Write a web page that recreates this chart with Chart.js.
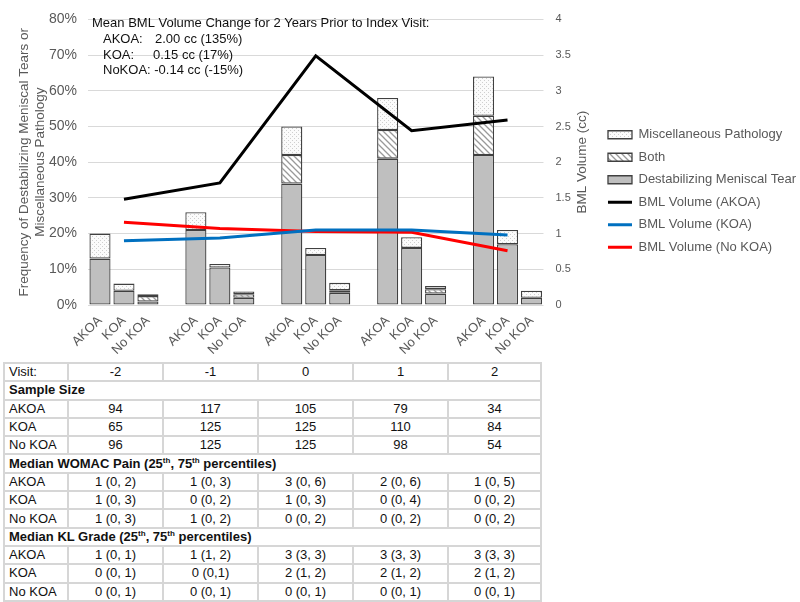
<!DOCTYPE html>
<html>
<head>
    <title>BML Volume and Meniscal Pathology</title>
    <script src="https://cdn.jsdelivr.net/npm/chart.js"></script>
    <style>
        body { margin: 0; width: 800px; height: 602px; overflow: hidden; background: #fff; position: relative; }
        #wrap { position: absolute; left: 0; top: 0; width: 800px; height: 382px; overflow: hidden; }
        #info { position: absolute; left: 3px; top: 362px; border-collapse: collapse; table-layout: fixed; width: 537px; background: #fff;
            font: 13px "Liberation Sans", Arial, sans-serif; color: #111; }
        #info td { border: 2px solid #d6d6d6; padding: 0 4px; height: 16.3px; line-height: 14px; text-align: center; white-space: nowrap; }
        #info td:first-child { text-align: left; }
        #info td.head { font-weight: bold; text-align: left; }
        #info sup { font-size: 8px; line-height: 0; }
    </style>
</head>
<body>
    <div id="wrap"><canvas id="chart" width="806" height="382"></canvas></div>
    <table id="info"></table>

    <script>
        // chart data
        const categories = ['AKOA', 'KOA', 'No KOA', '', 'AKOA', 'KOA', 'No KOA', '', 'AKOA', 'KOA', 'No KOA', '',
            'AKOA', 'KOA', 'No KOA', '', 'AKOA', 'KOA', 'No KOA'];
        const destabTear = [13, 4, 1, null, 21, 10.5, 2, null, 34, 14, 3.4, null, 41, 16, 3.2, null, 42, 17, 2];
        const bothPath = [null, null, 1.5, null, null, null, 1, null, 8, null, 0.7, null, 8, null, 1.2, null, 11, null, null];
        const miscPath = [7, 2, 0.5, null, 5, 1, 0.8, null, 8, 2, 2.1, null, 9, 3, 0.9, null, 11, 4, 2];
        const bmlAKOA = [null, 1.48, null, null, null, 1.71, null, null, null, 3.49, null, null, null, 2.44, null, null, null, 2.59, null];
        const bmlKOA = [null, 0.90, null, null, null, 0.94, null, null, null, 1.05, null, null, null, 1.05, null, null, null, 0.98, null];
        const bmlNoKOA = [null, 1.16, null, null, null, 1.07, null, null, null, 1.03, null, null, null, 1.02, null, null, null, 0.76, null];

        const noteTitle = 'Mean BML Volume Change for 2 Years Prior to Index Visit:';
        const noteGroups = ['AKOA:', 'KOA:', 'NoKOA:'];
        const noteValues = ['2.00 cc (135%)', '0.15 cc (17%)', '-0.14 cc (-15%)'];

        // table data
        const visits = ['-2', '-1', '0', '1', '2'];
        const sizeAKOA = [94, 117, 105, 79, 34];
        const sizeKOA = [65, 125, 125, 110, 84];
        const sizeNoKOA = [96, 125, 125, 98, 54];
        const painAKOA = ['1 (0, 2)', '1 (0, 3)', '3 (0, 6)', '2 (0, 6)', '1 (0, 5)'];
        const painKOA = ['1 (0, 3)', '0 (0, 2)', '1 (0, 3)', '0 (0, 4)', '0 (0, 2)'];
        const painNoKOA = ['1 (0, 3)', '1 (0, 2)', '0 (0, 2)', '0 (0, 2)', '0 (0, 2)'];
        const klAKOA = ['1 (0, 1)', '1 (1, 2)', '3 (3, 3)', '3 (3, 3)', '3 (3, 3)'];
        const klKOA = ['0 (0, 1)', '0 (0,1)', '2 (1, 2)', '2 (1, 2)', '2 (1, 2)'];
        const klNoKOA = ['0 (0, 1)', '0 (0, 1)', '0 (0, 1)', '0 (0, 1)', '0 (0, 1)'];

        const font = '"Liberation Sans", Arial, sans-serif';
        const grey = '#595959';

        function hatchPattern() {
            const c = document.createElement('canvas');
            c.width = 6; c.height = 6;
            const g = c.getContext('2d');
            g.fillStyle = '#fff';
            g.fillRect(0, 0, 6, 6);
            g.strokeStyle = '#999999';
            g.lineWidth = 1.3;
            g.beginPath();
            g.moveTo(-1, -1); g.lineTo(7, 7);
            g.moveTo(-4, 2); g.lineTo(4, 10);
            g.moveTo(2, -4); g.lineTo(10, 4);
            g.stroke();
            return g.createPattern(c, 'repeat');
        }

        function dotPattern() {
            const c = document.createElement('canvas');
            c.width = 4; c.height = 4;
            const g = c.getContext('2d');
            g.fillStyle = '#fbfbfb';
            g.fillRect(0, 0, 4, 4);
            g.fillStyle = '#cfcfcf';
            g.fillRect(0, 0, 1, 1);
            g.fillRect(2, 2, 1, 1);
            return g.createPattern(c, 'repeat');
        }

        const extras = {
            id: 'extras',
            afterDraw(chart) {
                const ctx = chart.ctx;
                const y1 = chart.scales.y1;
                const area = chart.chartArea;
                ctx.save();
                ctx.font = '13.5px ' + font;
                ctx.fillStyle = grey;
                ctx.textAlign = 'center';
                ctx.textBaseline = 'middle';
                ctx.translate(y1.left + 39, (area.top + area.bottom) / 2);
                ctx.rotate(-Math.PI / 2);
                ctx.fillText('BML Volume (cc)', 0, 0);
                ctx.restore();

                ctx.save();
                ctx.font = '13px ' + font;
                ctx.fillStyle = '#111';
                ctx.textBaseline = 'middle';
                ctx.fillText(noteTitle, area.left + 4, 23);
                const valueX = [155, 153, 151];
                for (let i = 0; i < noteGroups.length; i++) {
                    const y = 39.5 + i * 15.5;
                    ctx.fillText(noteGroups[i], area.left + 15, y);
                    ctx.fillText(noteValues[i], i == 2 ? area.left + 15 + ctx.measureText(noteGroups[i] + ' ').width : valueX[i], y);
                }
                ctx.restore();
            }
        };

        const barBorder = '#404040';
        new Chart(document.getElementById('chart'), {
            data: {
                labels: categories,
                datasets: [
                    { type: 'bar', label: 'Destabilizing Meniscal Tear', data: destabTear, backgroundColor: '#bfbfbf',
                      borderColor: barBorder, borderWidth: 1.3, yAxisID: 'y', order: 1 },
                    { type: 'bar', label: 'Both', data: bothPath, backgroundColor: hatchPattern(),
                      borderColor: barBorder, borderWidth: 1.3, yAxisID: 'y', order: 1 },
                    { type: 'bar', label: 'Miscellaneous Pathology', data: miscPath, backgroundColor: dotPattern(),
                      borderColor: barBorder, borderWidth: 1.3, yAxisID: 'y', order: 1 },
                    { type: 'line', label: 'BML Volume (AKOA)', data: bmlAKOA, borderColor: '#000000', backgroundColor: '#000000',
                      borderWidth: 3, pointRadius: 0, spanGaps: true, yAxisID: 'y1', order: 0 },
                    { type: 'line', label: 'BML Volume (KOA)', data: bmlKOA, borderColor: '#0070c0', backgroundColor: '#0070c0',
                      borderWidth: 3, pointRadius: 0, spanGaps: true, yAxisID: 'y1', order: 0 },
                    { type: 'line', label: 'BML Volume (No KOA)', data: bmlNoKOA, borderColor: '#ff0000', backgroundColor: '#ff0000',
                      borderWidth: 3, pointRadius: 0, spanGaps: true, yAxisID: 'y1', order: 0 }
                ]
            },
            options: {
                responsive: false,
                animation: false,
                layout: { padding: { left: 0, right: 0, top: 0, bottom: 0 } },
                datasets: { bar: { categoryPercentage: 1, barPercentage: 0.88, borderSkipped: false } },
                plugins: {
                    tooltip: { enabled: false },
                    legend: {
                        position: 'right',
                        maxWidth: 400,
                        labels: {
                            color: grey,
                            font: { family: font, size: 13 },
                            usePointStyle: true,
                            pointStyleWidth: 24,
                            boxHeight: 8,
                            padding: 9.5,
                            generateLabels(chart) {
                                const ds = chart.data.datasets;
                                return [2, 1, 0, 3, 4, 5].map(i => ({
                                    text: ds[i].label,
                                    fillStyle: ds[i].backgroundColor,
                                    strokeStyle: ds[i].borderColor,
                                    lineWidth: ds[i].type == 'line' ? 3 : 1.3,
                                    pointStyle: ds[i].type == 'line' ? 'line' : 'rect',
                                    fontColor: grey,
                                    hidden: false,
                                    datasetIndex: i
                                }));
                            }
                        }
                    }
                },
                scales: {
                    x: {
                        stacked: true,
                        grid: { display: false },
                        border: { display: false },
                        ticks: { autoSkip: false, minRotation: 45, maxRotation: 45, padding: 0, color: grey, font: { family: font, size: 13 } },
                        afterFit(scale) { scale.height = 77; }
                    },
                    y: {
                        position: 'left',
                        min: 0, max: 80,
                        stacked: true,
                        grid: { color: '#d9d9d9', lineWidth: 1, drawTicks: false },
                        border: { display: false },
                        ticks: { stepSize: 10, padding: 11, color: grey, font: { family: font, size: 14 }, callback: v => v + '%' },
                        title: { display: true, text: ['Frequency of Destabilizing Meniscal Tears or', 'Miscellaneous Pathology'],
                                 color: grey, font: { family: font, size: 13.5, lineHeight: 1.15 }, padding: { top: 17, bottom: 0 } },
                        afterFit(scale) { scale.width = 88; }
                    },
                    y1: {
                        position: 'right',
                        min: 0, max: 4,
                        grid: { drawOnChartArea: false, drawTicks: false },
                        border: { display: false },
                        ticks: { stepSize: 0.5, padding: 12, color: grey, font: { family: font, size: 11 }, callback: v => String(v) },
                        afterFit(scale) { scale.width = 55; }
                    }
                }
            },
            plugins: [extras]
        });

        // table under the chart
        function row(label, cells) {
            return '<tr><td>' + label + '</td>' + cells.map(c => '<td>' + c + '</td>').join('') + '</tr>';
        }
        function head(text) {
            return '<tr><td class="head" colspan="6">' + text + '</td></tr>';
        }
        document.getElementById('info').innerHTML =
            '<colgroup><col style="width:64px"><col style="width:95px"><col style="width:95px"><col style="width:95px"><col style="width:95px"><col style="width:93px"></colgroup>' +
            row('Visit:', visits) +
            head('Sample Size') +
            row('AKOA', sizeAKOA) + row('KOA', sizeKOA) + row('No KOA', sizeNoKOA) +
            head('Median WOMAC Pain (25<sup>th</sup>, 75<sup>th</sup> percentiles)') +
            row('AKOA', painAKOA) + row('KOA', painKOA) + row('No KOA', painNoKOA) +
            head('Median KL Grade (25<sup>th</sup>, 75<sup>th</sup> percentiles)') +
            row('AKOA', klAKOA) + row('KOA', klKOA) + row('No KOA', klNoKOA);
    </script>
</body>
</html>
